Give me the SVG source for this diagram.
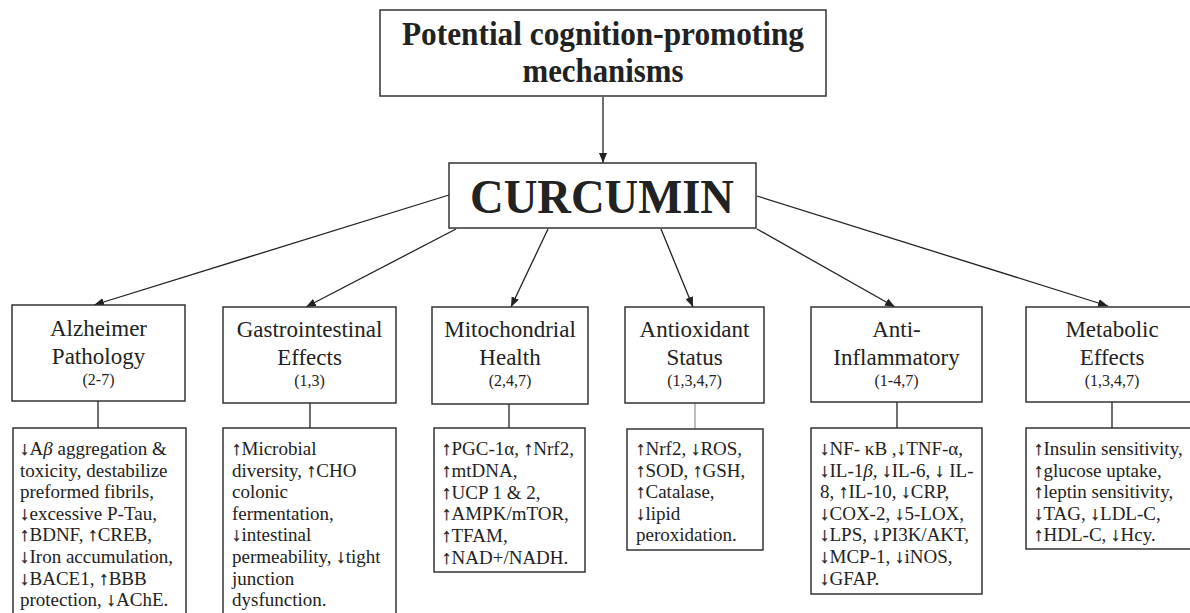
<svg xmlns="http://www.w3.org/2000/svg" width="1190" height="613" viewBox="0 0 1190 613">
<style>
.box{fill:#fff;stroke:#333;stroke-width:1.5}
.ln{stroke:#222;stroke-width:1.3;fill:none}
.hd{font-family:"Liberation Serif","Times New Roman",serif;font-size:23px;fill:#222;text-anchor:middle}
.ref{font-family:"Liberation Serif","Times New Roman",serif;font-size:16px;fill:#222;text-anchor:middle}
.dt{font-family:"Liberation Serif","DejaVu Serif",serif;font-size:19px;fill:#222}
.ar{stroke:#222;stroke-width:0.35}
.it{font-style:italic}
.tt{font-family:"Liberation Serif","Times New Roman",serif;font-weight:bold;fill:#222;text-anchor:middle}
</style>
<defs>
<marker id="ah" markerUnits="userSpaceOnUse" markerWidth="10" markerHeight="8" refX="10" refY="4" orient="auto">
<path d="M0,0 L10,4 L0,8 Z" fill="#222"/>
</marker>
</defs>
<rect width="1190" height="613" fill="#fff"/>
<g opacity="0.995">
<g id="connectors">
<line class="ln" x1="603" y1="97" x2="603" y2="163" marker-end="url(#ah)"/>
<line class="ln" x1="449" y1="195" x2="94" y2="305" marker-end="url(#ah)"/>
<line class="ln" x1="456" y1="229" x2="306" y2="307" marker-end="url(#ah)"/>
<line class="ln" x1="548" y1="229" x2="511" y2="307" marker-end="url(#ah)"/>
<line class="ln" x1="661" y1="229" x2="693" y2="307" marker-end="url(#ah)"/>
<line class="ln" x1="757" y1="229" x2="895" y2="307" marker-end="url(#ah)"/>
<line class="ln" x1="757" y1="196" x2="1108" y2="306" marker-end="url(#ah)"/>
<line class="ln" x1="98" y1="401" x2="98" y2="428"/>
<line class="ln" x1="310" y1="403" x2="310" y2="428"/>
<line class="ln" x1="509" y1="404" x2="509" y2="428"/>
<line class="ln" x1="695" y1="403" x2="695" y2="429" style="stroke:#999"/>
<line class="ln" x1="897" y1="402" x2="897" y2="428"/>
<line class="ln" x1="1112" y1="402" x2="1112" y2="428"/>
</g>

<g id="title">
<rect class="box" x="380" y="10" width="446" height="86"/>
<text class="tt" x="603" y="45" font-size="34" textLength="402" lengthAdjust="spacingAndGlyphs">Potential cognition-promoting</text>
<text class="tt" x="603" y="82" font-size="34" textLength="161" lengthAdjust="spacingAndGlyphs">mechanisms</text>
</g>

<g id="curcumin">
<rect class="box" x="449" y="163" width="307" height="65"/>
<text class="tt" x="602" y="213" font-size="49" textLength="264" lengthAdjust="spacingAndGlyphs">CURCUMIN</text>
</g>

<g id="alzheimer">
<rect class="box" x="12" y="305" width="173" height="96"/>
<text class="hd" x="98.5" y="336">Alzheimer</text>
<text class="hd" x="98.5" y="364">Pathology</text>
<text class="ref" x="98.5" y="385">(2-7)</text>
</g>
<g id="alzheimer-detail">
<rect class="box" x="13" y="428" width="173" height="200"/>
<text class="dt" x="20" y="455"><tspan class="ar">↓</tspan>A<tspan class="it">β</tspan> aggregation &amp;</text>
<text class="dt" x="20" y="476.6">toxicity, destabilize</text>
<text class="dt" x="20" y="498.2">preformed fibrils,</text>
<text class="dt" x="20" y="519.8"><tspan class="ar">↓</tspan>excessive P-Tau,</text>
<text class="dt" x="20" y="541.4"><tspan class="ar">↑</tspan>BDNF, <tspan class="ar">↑</tspan>CREB,</text>
<text class="dt" x="20" y="563"><tspan class="ar">↓</tspan>Iron accumulation,</text>
<text class="dt" x="20" y="584.6"><tspan class="ar">↓</tspan>BACE1, <tspan class="ar">↑</tspan>BBB</text>
<text class="dt" x="20" y="606.2">protection, <tspan class="ar">↓</tspan>AChE.</text>
</g>

<g id="gastro">
<rect class="box" x="223" y="307" width="173" height="96"/>
<text class="hd" x="309.5" y="337">Gastrointestinal</text>
<text class="hd" x="309.5" y="365">Effects</text>
<text class="ref" x="309.5" y="386">(1,3)</text>
</g>
<g id="gastro-detail">
<rect class="box" x="223" y="428" width="173" height="200"/>
<text class="dt" x="232" y="455"><tspan class="ar">↑</tspan>Microbial</text>
<text class="dt" x="232" y="476.6">diversity, <tspan class="ar">↑</tspan>CHO</text>
<text class="dt" x="232" y="498.2">colonic</text>
<text class="dt" x="232" y="519.8">fermentation,</text>
<text class="dt" x="232" y="541.4"><tspan class="ar">↓</tspan>intestinal</text>
<text class="dt" x="232" y="563">permeability, <tspan class="ar">↓</tspan>tight</text>
<text class="dt" x="232" y="584.6">junction</text>
<text class="dt" x="232" y="606.2">dysfunction.</text>
</g>

<g id="mito">
<rect class="box" x="432" y="307" width="156" height="97"/>
<text class="hd" x="510" y="337">Mitochondrial</text>
<text class="hd" x="510" y="365">Health</text>
<text class="ref" x="510" y="386">(2,4,7)</text>
</g>
<g id="mito-detail">
<rect class="box" x="434" y="428" width="151" height="144"/>
<text class="dt" x="442" y="455"><tspan class="ar">↑</tspan>PGC-1α, <tspan class="ar">↑</tspan>Nrf2,</text>
<text class="dt" x="442" y="476.8"><tspan class="ar">↑</tspan>mtDNA,</text>
<text class="dt" x="442" y="498.6"><tspan class="ar">↑</tspan>UCP 1 &amp; 2,</text>
<text class="dt" x="442" y="520.4"><tspan class="ar">↑</tspan>AMPK/mTOR,</text>
<text class="dt" x="442" y="542.2"><tspan class="ar">↑</tspan>TFAM,</text>
<text class="dt" x="442" y="564"><tspan class="ar">↑</tspan>NAD+/NADH.</text>
</g>

<g id="antioxidant">
<rect class="box" x="625" y="307" width="139" height="96"/>
<text class="hd" x="694.5" y="337">Antioxidant</text>
<text class="hd" x="694.5" y="365">Status</text>
<text class="ref" x="694.5" y="386">(1,3,4,7)</text>
</g>
<g id="antioxidant-detail">
<rect class="box" x="627" y="429" width="136" height="121"/>
<text class="dt" x="636" y="455"><tspan class="ar">↑</tspan>Nrf2, <tspan class="ar">↓</tspan>ROS,</text>
<text class="dt" x="636" y="476.6"><tspan class="ar">↑</tspan>SOD, <tspan class="ar">↑</tspan>GSH,</text>
<text class="dt" x="636" y="498.2"><tspan class="ar">↑</tspan>Catalase,</text>
<text class="dt" x="636" y="519.8"><tspan class="ar">↓</tspan>lipid</text>
<text class="dt" x="636" y="541.4">peroxidation.</text>
</g>

<g id="antiinflammatory">
<rect class="box" x="811" y="307" width="171" height="95"/>
<text class="hd" x="896.5" y="337">Anti-</text>
<text class="hd" x="896.5" y="365">Inflammatory</text>
<text class="ref" x="896.5" y="386">(1-4,7)</text>
</g>
<g id="antiinflammatory-detail">
<rect class="box" x="811" y="428" width="171" height="166"/>
<text class="dt" x="820" y="455"><tspan class="ar">↓</tspan>NF- κB ,<tspan class="ar">↓</tspan>TNF-α,</text>
<text class="dt" x="820" y="476.6"><tspan class="ar">↓</tspan>IL-1<tspan class="it">β,</tspan> <tspan class="ar">↓</tspan>IL-6, <tspan class="ar">↓</tspan> IL-</text>
<text class="dt" x="820" y="498.2">8, <tspan class="ar">↑</tspan>IL-10, <tspan class="ar">↓</tspan>CRP,</text>
<text class="dt" x="820" y="519.8"><tspan class="ar">↓</tspan>COX-2, <tspan class="ar">↓</tspan>5-LOX,</text>
<text class="dt" x="820" y="541.4"><tspan class="ar">↓</tspan>LPS, <tspan class="ar">↓</tspan>PI3K/AKT,</text>
<text class="dt" x="820" y="563"><tspan class="ar">↓</tspan>MCP-1, <tspan class="ar">↓</tspan>iNOS,</text>
<text class="dt" x="820" y="584.6"><tspan class="ar">↓</tspan>GFAP.</text>
</g>

<g id="metabolic">
<rect class="box" x="1026" y="307" width="174" height="95"/>
<text class="hd" x="1112" y="337">Metabolic</text>
<text class="hd" x="1112" y="365">Effects</text>
<text class="ref" x="1112" y="386">(1,3,4,7)</text>
</g>
<g id="metabolic-detail">
<rect class="box" x="1026" y="428" width="174" height="121"/>
<text class="dt" x="1034" y="455"><tspan class="ar">↑</tspan>Insulin sensitivity,</text>
<text class="dt" x="1034" y="476.6"><tspan class="ar">↑</tspan>glucose uptake,</text>
<text class="dt" x="1034" y="498.2"><tspan class="ar">↑</tspan>leptin sensitivity,</text>
<text class="dt" x="1034" y="519.8"><tspan class="ar">↓</tspan>TAG, <tspan class="ar">↓</tspan>LDL-C,</text>
<text class="dt" x="1034" y="541.4"><tspan class="ar">↑</tspan>HDL-C, <tspan class="ar">↓</tspan>Hcy.</text>
</g>
</g>
</svg>
